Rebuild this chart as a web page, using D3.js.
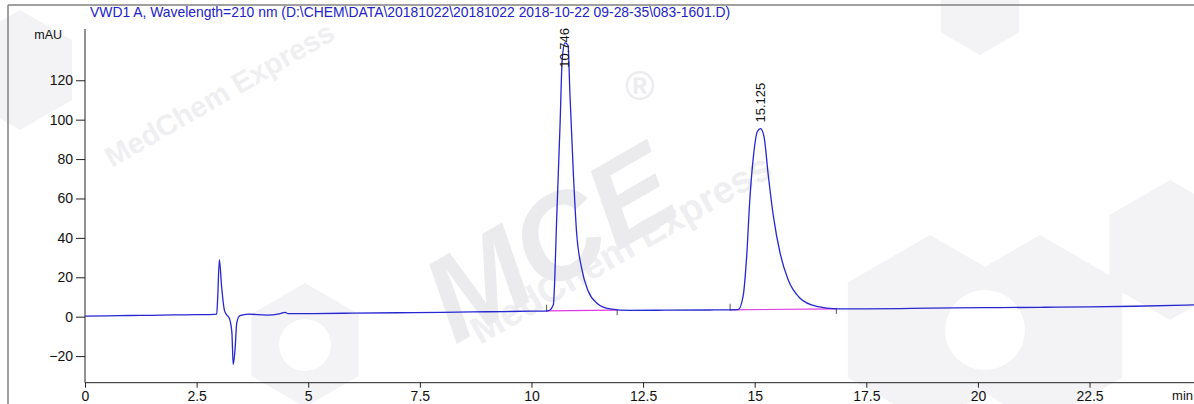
<!DOCTYPE html>
<html>
<head>
<meta charset="utf-8">
<script src="https://cdn.jsdelivr.net/npm/d3@7/dist/d3.min.js"></script>
<style>
  html, body { margin: 0; padding: 0; background: #fff; overflow: hidden; }
  svg { display: block; font-family: "Liberation Sans", Arial, sans-serif; }
</style>
</head>
<body>
<svg id="chart" width="1194" height="404"></svg>
<script>
// ---- data ----
const title = "VWD1 A, Wavelength=210 nm (D:\\CHEM\\DATA\\20181022\\20181022 2018-10-22 09-28-35\\083-1601.D)";
const yUnit = "mAU";
const xUnit = "min";

const times = [0, 0.5, 1.0, 1.5, 2.0, 2.5, 2.9, 2.95, 2.97, 3.01, 3.06, 3.12, 3.17, 3.23, 3.29, 3.32, 3.36, 3.40, 3.47, 3.66, 4.07, 4.35, 4.48, 4.55, 5.0, 6.0, 7.0, 8.0, 9.0, 10.0,
  10.38, 10.49, 10.52, 10.56, 10.64, 10.69, 10.75, 10.82, 10.86, 10.94, 11.01, 11.12, 11.27, 11.46, 11.76, 12.2, 13.0, 14.0,
  14.63, 14.74, 14.82, 14.89, 14.97, 15.06, 15.13, 15.21, 15.30, 15.42, 15.57, 15.75, 16.01, 16.39, 16.83,
  17.5, 18.5, 19.5, 20.5, 21.5, 22.5, 23.5, 24.85];
const signal = [0.3, 0.4, 0.6, 0.7, 0.9, 1.0, 1.2, 1.3, 8.6, 28.9, 15.3, 3.5, 1.0, -0.7, -8, -24.3, -16.7, -3, 0.5, 1.3, 0.8, 1.4, 2.2, 1.6, 1.6, 1.8, 2.0, 2.2, 2.5, 2.8,
  3.0, 6, 18, 46.6, 97, 131, 139, 137.7, 114, 72, 43, 25, 13, 7, 4, 3.2, 3.3, 3.4,
  3.6, 10.3, 30.5, 59, 81, 94, 95.5, 91.3, 72.7, 50.8, 32.2, 18.7, 9.5, 5.2, 4.0,
  4.0, 4.2, 4.5, 4.6, 4.8, 5.0, 5.3, 6.0];

const peakTimes = [10.746, 15.125];
const peakLabels = ["10.746", "15.125"];
const peakStart = [10.34, 14.45];
const peakEnd = [11.92, 16.83];
const baseStart = [3.0, 3.5];
const baseEnd = [3.3, 4.0];

const xMajorTicks = [0, 2.5, 5, 7.5, 10, 12.5, 15, 17.5, 20, 22.5];
const xTickLabels = ["0", "2.5", "5", "7.5", "10", "12.5", "15", "17.5", "20", "22.5"];
const yMajorTicks = [-20, 0, 20, 40, 60, 80, 100, 120];

// ---- layout ----
const svg = d3.select("#chart");
const x = d3.scaleLinear().domain([0, 24.84]).range([85, 1194]);
const y = d3.scaleLinear().domain([-33.5, 145]).range([382.7, 31]);
const axisY = 382.7, axisX = 85;

// ---- faint watermark ----
const wm = svg.append("g").attr("fill", "#efeff1").attr("font-weight", "bold");
function hexagon(cx, cy, r) {
  const pts = d3.range(6).map(i => {
    const a = Math.PI / 6 + i * Math.PI / 3;
    return [cx + r * Math.cos(a), cy + r * Math.sin(a)];
  });
  return "M" + pts.join("L") + "Z";
}
[[305, 345, 62], [930, 330, 95], [1040, 330, 95], [980, 10, 45], [20, 70, 60], [1170, 250, 70]].forEach(h => {
  wm.append("path").attr("d", hexagon(h[0], h[1], h[2])).attr("fill", "#f3f3f5");
});
wm.append("circle").attr("cx", 305).attr("cy", 345).attr("r", 26).attr("fill", "#fff");
wm.append("circle").attr("cx", 985).attr("cy", 330).attr("r", 40).attr("fill", "#fff");
wm.append("text").attr("transform", "translate(112,168) rotate(-30)").attr("font-size", 29).text("MedChem Express");
wm.append("text").attr("transform", "translate(480,345) rotate(-30)").attr("font-size", 38).text("MedChem Express");
wm.append("text").attr("transform", "translate(455,345) rotate(-30)").attr("font-size", 120).attr("font-style", "italic").attr("fill", "#ebebee").text("MCE");
wm.append("text").attr("x", 625).attr("y", 100).attr("font-size", 40).attr("fill", "#ececef").text("®");

// ---- frame ----
svg.append("line").attr("x1", 8).attr("x2", 1194).attr("y1", 5).attr("y2", 5).attr("stroke", "#808080").attr("stroke-width", 1.5);
svg.append("line").attr("x1", 8).attr("x2", 8).attr("y1", 5).attr("y2", 404).attr("stroke", "#808080").attr("stroke-width", 1.5);

// ---- title ----
svg.append("text").attr("x", 90).attr("y", 17).attr("font-size", 13.9).attr("fill", "#2222c8").text(title);

// ---- axes ----
const gY = svg.append("g").attr("transform", `translate(${axisX},0)`);
gY.call(d3.axisLeft(y).tickValues(d3.range(-30, 141, 5)).tickSize(5).tickFormat(""));
gY.call(d3.axisLeft(y).tickValues(yMajorTicks).tickSize(9).tickPadding(3).tickFormat(d3.format("d")));
gY.selectAll(".domain").remove();
gY.selectAll("line").attr("stroke", "#222");
gY.selectAll("text").attr("font-size", 14).attr("fill", "#111").attr("font-family", "Liberation Sans, Arial, sans-serif");
svg.append("line").attr("x1", axisX).attr("x2", axisX).attr("y1", 29).attr("y2", axisY).attr("stroke", "#222");

const gX = svg.append("g").attr("transform", `translate(0,${axisY})`);
gX.call(d3.axisBottom(x).tickValues(d3.range(0, 24.9, 0.5)).tickSize(4).tickFormat(""));
gX.call(d3.axisBottom(x).tickValues(xMajorTicks).tickSize(5).tickPadding(3).tickFormat((d, i) => xTickLabels[i]));
gX.selectAll(".domain").remove();
gX.selectAll("line").attr("stroke", "#222");
gX.selectAll("text").attr("font-size", 14).attr("fill", "#111").attr("font-family", "Liberation Sans, Arial, sans-serif");
svg.append("line").attr("x1", axisX).attr("x2", 1194).attr("y1", axisY).attr("y2", axisY).attr("stroke", "#222");

svg.append("text").attr("x", 62).attr("y", 39).attr("text-anchor", "end").attr("font-size", 12.5).attr("fill", "#111").text(yUnit);
svg.append("text").attr("x", 1193).attr("y", 400).attr("text-anchor", "end").attr("font-size", 13).attr("fill", "#111").text(xUnit);

// ---- integration baselines ----
peakStart.forEach((s, i) => {
  svg.append("line").attr("x1", x(s)).attr("x2", x(peakEnd[i])).attr("y1", y(baseStart[i])).attr("y2", y(baseEnd[i]))
    .attr("stroke", "#e23ae2").attr("stroke-width", 1.2);
  svg.append("line").attr("x1", x(s)).attr("x2", x(s)).attr("y1", y(baseStart[i]) - 6).attr("y2", y(baseStart[i]) + 1)
    .attr("stroke", "#555").attr("stroke-width", 1);
  svg.append("line").attr("x1", x(peakEnd[i])).attr("x2", x(peakEnd[i])).attr("y1", y(baseEnd[i]) - 1).attr("y2", y(baseEnd[i]) + 5)
    .attr("stroke", "#555").attr("stroke-width", 1);
});

// ---- signal ----
const pts = times.map((t, i) => [t, signal[i]]);
svg.append("path").datum(pts)
  .attr("d", d3.line().x(d => x(d[0])).y(d => y(d[1])).curve(d3.curveMonotoneX))
  .attr("fill", "none").attr("stroke", "#2626d2").attr("stroke-width", 1.3);

// ---- peak labels ----
peakTimes.forEach((t, i) => {
  let best = 0;
  times.forEach((tt, j) => { if (Math.abs(tt - t) < Math.abs(times[best] - t)) best = j; });
  const apexY = y(signal[best]);
  const txt = svg.append("text").attr("font-size", 13).attr("fill", "#111")
    .attr("dominant-baseline", "central").text(peakLabels[i]);
  const len = txt.node().getComputedTextLength();
  const startY = Math.max(apexY - 6, 28 + len);
  txt.attr("transform", `translate(${x(t)},${startY}) rotate(-90)`);
});
</script>
</body>
</html>
